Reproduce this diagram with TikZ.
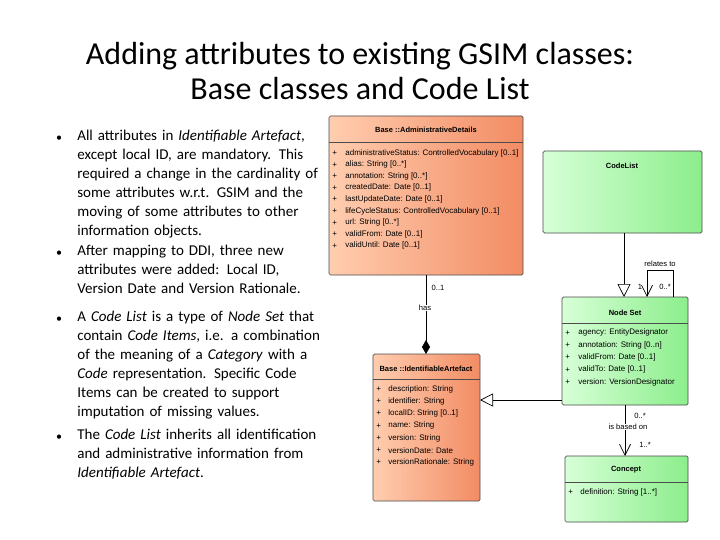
\documentclass[tikz,border=0pt]{standalone}
\usepackage{fontspec}
\usepackage[none]{hyphenat}
\setmainfont{Carlito}
\newfontfamily\umlfont{Liberation Sans}
\usetikzlibrary{arrows.meta}
\definecolor{orL}{RGB}{255,205,175}
\definecolor{orR}{RGB}{242,140,100}
\definecolor{grL}{RGB}{215,255,215}
\definecolor{grR}{RGB}{140,238,140}
\tikzset{
  orbox/.style={draw=black!70,rounded corners=1.5pt,left color=orL,right color=orR},
  grbox/.style={draw=black!70,rounded corners=1.5pt,left color=grL,right color=grR},
  hdr/.style={font=\umlfont\bfseries\fontsize{7.5}{8}\selectfont,anchor=center},
  attr/.style={font=\umlfont\fontsize{8}{8}\selectfont,anchor=west,inner sep=0},
  lbl/.style={font=\umlfont\fontsize{7.6}{8}\selectfont,inner sep=0.5pt},
  bul/.style={font=\fontsize{15}{19}\selectfont,anchor=north west,inner sep=0,text width=252pt,align=left},
  gen/.style={-{Triangle[open,length=13pt,width=13pt]}},
  nav/.style={-{Straight Barb[length=11pt,width=11pt]}},
}
\begin{document}
\begin{tikzpicture}[x=1pt,y=-1pt,line width=0.7pt]
\useasboundingbox[fill=white] (0,0) rectangle (720,540);
\node[font=\fontsize{32}{35}\selectfont,align=center] (title) at (360,71) {Adding attributes to existing GSIM classes:\\Base classes and Code List};
% bullets
\foreach \y in {131,246,312,430} \node[font=\fontsize{12}{12}\selectfont] at (59,\y+8) {\textbullet};
\node[bul] (b1) at (77,130) {All attributes in \textit{Identifiable Artefact}, except local ID, are mandatory. This required a change in the cardinality of some attributes w.r.t. GSIM and the moving of some attributes to other information objects.};
\node[bul] (b2) at (77,245) {After mapping to DDI, three new attributes were added: Local ID, Version Date and Version Rationale.};
\node[bul] (b3) at (77,311) {A \textit{Code List} is a type of \textit{Node Set} that contain \textit{Code Items}, i.e. a combination of the meaning of a \textit{Category} with a \textit{Code} representation. Specific Code Items can be created to support imputation of missing values.};
\node[bul] (b4) at (77,429) {The \textit{Code List} inherits all identification and administrative information from \textit{Identifiable Artefact}.};
% Admin details
\draw[orbox] (329,116) rectangle (523,275);
\coordinate (adB) at (426,275);
\draw[black!70] (329,142) -- (523,142);
\node[hdr] at (426,130) {Base ::AdministrativeDetails};
\foreach \t [count=\i] in {administrativeStatus: ControlledVocabulary [0..1],alias: String [0..*],annotation: String [0..*],createdDate: Date [0..1],lastUpdateDate: Date [0..1],lifeCycleStatus: ControlledVocabulary [0..1],url: String [0..*],validFrom: Date [0..1],validUntil: Date [0..1]}
  {\node[attr] at (332,141.5+11.6*\i) {+};\node[attr] at (345,141.5+11.6*\i) {\t};}
% Code list
\draw[grbox] (543,151) rectangle (702,233);
\node[hdr] at (622,166) {CodeList};
% Node set
\draw[grbox] (562,297) rectangle (688,405);
\draw[black!70] (562,323) -- (688,323);
\node[hdr] at (625,313) {Node Set};
\foreach \t [count=\i] in {agency: EntityDesignator,annotation: String [0..n],validFrom: Date [0..1],validTo: Date [0..1],version: VersionDesignator}
  {\node[attr] at (565,320.5+12.3*\i) {+};\node[attr] at (578,320.5+12.3*\i) {\t};}
% Identifiable artefact
\draw[orbox] (373,354) rectangle (480,501);
\draw[black!70] (373,379) -- (480,379);
\node[hdr] at (426,369) {Base ::IdentifiableArtefact};
\foreach \t [count=\i] in {description: String,identifier: String,localID: String [0..1],name: String,version: String,versionDate: Date,versionRationale: String}
  {\node[attr] at (376,377+12.2*\i) {+};\node[attr] at (388,377+12.2*\i) {\t};}
% Concept
\draw[grbox] (565,456) rectangle (688,522);
\draw[black!70] (565,482) -- (688,482);
\node[hdr] at (626,470) {Concept};
\node[attr] at (568,492) {+};\node[attr] at (580,492) {definition: String [1..*]};
% connectors
\draw[black,-{Diamond[length=14pt,width=8pt]}] (adB) -- (426,354);
\node[lbl] at (438,288) {0..1};
\node[lbl,fill=white] at (425,308) {has};
\draw[black,gen] (624,233) -- (624,297);
\coordinate (la) at (647,270); \coordinate (lb) at (673,270);
\draw[black,nav] (673,297) -- (lb) -- (la) -- (647,297);
\node[lbl] at (660,264) {relates to};
\node[lbl] at (640,287) {1};
\node[lbl] at (665,287) {0..*};
\draw[black,gen] (562,400) -- (480,400);
\draw[black,nav] (625,405) -- (625,456);
\node[lbl] at (640,416) {0..*};
\node[lbl,fill=white] at (628,427) {is based on};
\node[lbl] at (645,445) {1..*};
\end{tikzpicture}
\end{document}
